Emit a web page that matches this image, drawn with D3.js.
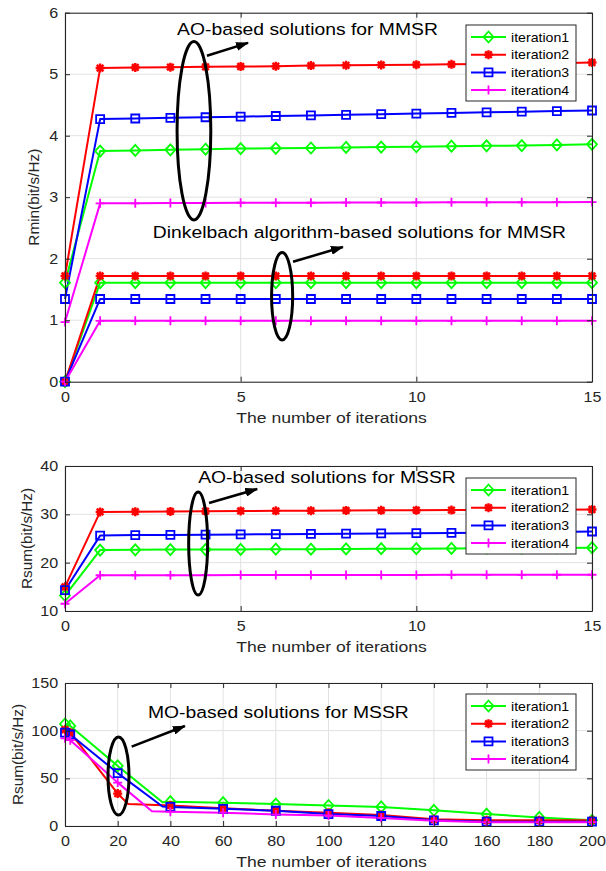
<!DOCTYPE html>
<html><head><meta charset="utf-8">
<script src="https://cdn.jsdelivr.net/npm/d3@7"></script>
<style>body{margin:0;background:#fff} svg{display:block}</style>
</head><body>
<script>
// ---------------- data ----------------
const seriesNames = ["iteration1", "iteration2", "iteration3", "iteration4"];
const seriesColors = ["#00ff00", "#ff0000", "#0000ff", "#ff00ff"];
const seriesMarkers = ["diamond", "star", "square", "plus"];

// Panel 1: Rmin vs iterations
const p1X = [0,1,2,3,4,5,6,7,8,9,10,11,12,13,14,15];
const p1AO_it1 = [1.61,3.75,3.76,3.77,3.78,3.79,3.795,3.80,3.81,3.815,3.82,3.83,3.835,3.84,3.85,3.86];
const p1AO_it2 = [1.72,5.10,5.11,5.115,5.12,5.125,5.13,5.14,5.145,5.15,5.155,5.16,5.165,5.17,5.18,5.19];
const p1AO_it3 = [1.345,4.27,4.28,4.29,4.30,4.31,4.32,4.33,4.34,4.35,4.36,4.37,4.38,4.39,4.40,4.41];
const p1AO_it4 = [0.97,2.90,2.90,2.905,2.905,2.91,2.91,2.91,2.912,2.914,2.915,2.916,2.917,2.918,2.919,2.92];
const p1DK_it1 = [0,1.61,1.61,1.61,1.61,1.61,1.61,1.61,1.61,1.61,1.61,1.61,1.61,1.61,1.61,1.61];
const p1DK_it2 = [0,1.72,1.72,1.72,1.72,1.72,1.72,1.72,1.72,1.72,1.72,1.72,1.72,1.72,1.72,1.72];
const p1DK_it3 = [0,1.345,1.345,1.345,1.345,1.345,1.345,1.345,1.345,1.345,1.345,1.345,1.345,1.345,1.345,1.345];
const p1DK_it4 = [0,0.99,0.99,0.99,0.99,0.99,0.99,0.99,0.99,0.99,0.99,0.99,0.99,0.99,0.99,0.99];
const p1XTicks = [0,5,10,15];
const p1YTicks = [0,1,2,3,4,5,6];

// Panel 2: Rsum (AO) vs iterations
const p2X = [0,1,2,3,4,5,6,7,8,9,10,11,12,13,14,15];
const p2_it1 = [13.2,22.6,22.65,22.7,22.7,22.75,22.8,22.8,22.85,22.9,22.9,22.95,23.0,23.0,23.05,23.1];
const p2_it2 = [15.0,30.5,30.55,30.6,30.65,30.7,30.72,30.75,30.8,30.82,30.85,30.88,30.9,30.93,30.96,31.0];
const p2_it3 = [14.3,25.6,25.7,25.75,25.8,25.85,25.9,25.95,26.0,26.05,26.1,26.15,26.2,26.3,26.35,26.45];
const p2_it4 = [11.5,17.4,17.4,17.4,17.42,17.43,17.44,17.45,17.45,17.46,17.47,17.48,17.48,17.49,17.5,17.5];
const p2XTicks = [0,5,10,15];
const p2YTicks = [10,20,30,40];

// Panel 3: Rsum (MO) vs iterations
const p3_it1_x = [0,2,20,37,40,60,80,100,120,140,160,180,200];
const p3_it1_y = [107,105,63,25,25.5,24.5,23,21.5,20,16.5,12.5,9,6];
const p3_it2_x = [0,2,20,24,40,60,80,100,120,140,160,180,200];
const p3_it2_y = [101,98,34,23,21.5,18.5,16,14,11.5,7,6,6,6];
const p3_it3_x = [0,2,20,37,40,60,80,100,120,140,160,180,200];
const p3_it3_y = [98,96,55.5,20.5,20,18,16,12.5,10.5,6,4.5,4.5,4.5];
const p3_it4_x = [0,2,20,33,40,60,80,100,120,140,160,180,200];
const p3_it4_y = [92,90,45.5,15.5,15,14,12,11,8.5,5.5,4,4,4];
const p3MarkerX = [0,2,20,40,60,80,100,120,140,160,180,200];
const p3XTicks = [0,20,40,60,80,100,120,140,160,180,200];
const p3YTicks = [0,50,100,150];

const xTitle = "The number of iterations";

// ---------------- drawing ----------------
const W = 606, H = 871;
const SX = 1.15; // horizontal text stretch of the original figure
const FONT = "'Liberation Sans', Arial, sans-serif";
const AX = "#262626";

const svg = d3.select("body").append("svg").attr("width", W).attr("height", H)
  .style("font-family", FONT);

const defs = svg.append("defs");
defs.append("marker").attr("id", "arrowhead")
  .attr("markerUnits", "userSpaceOnUse")
  .attr("markerWidth", 13).attr("markerHeight", 9)
  .attr("refX", 12).attr("refY", 4.5).attr("orient", "auto")
  .append("path").attr("d", "M0,0L13,4.5L0,9Z").attr("fill", "#000");

function markerPath(type) {
  switch (type) {
    case "diamond": return "M0,-5.5L5,0L0,5.5L-5,0Z";
    case "square": return "M-4,-4H4V4H-4Z";
    case "plus": return "M-4.5,0H4.5M0,-4.5V4.5";
    case "star": return "M-4.5,0H4.5M0,-4.5V4.5M-3.3,-3.3L3.3,3.3M-3.3,3.3L3.3,-3.3";
  }
}

function stretchText(sel, x, y) {
  return sel.attr("transform", `translate(${x},${y}) scale(${SX},1)`);
}

const fmt = d3.format("~g");

function drawPanel(cfg) {
  const L = 65, R = 592;
  const x = d3.scaleLinear().domain(cfg.xDomain).range([L, R]);
  const y = d3.scaleLinear().domain(cfg.yDomain).range([cfg.bottom, cfg.top]);
  const g = svg.append("g");

  // grid
  g.append("g").selectAll("line").data(cfg.xTicks).join("line")
    .attr("x1", d => x(d)).attr("x2", d => x(d))
    .attr("y1", cfg.top).attr("y2", cfg.bottom)
    .attr("stroke", "#e2e2e2").attr("stroke-width", 1);
  g.append("g").selectAll("line").data(cfg.yTicks).join("line")
    .attr("x1", L).attr("x2", R)
    .attr("y1", d => y(d)).attr("y2", d => y(d))
    .attr("stroke", "#e2e2e2").attr("stroke-width", 1);

  // series
  const line = d3.line().x(d => x(d[0])).y(d => y(d[1]));
  cfg.series.forEach(s => {
    const pts = s.xs.map((v, i) => [v, s.ys[i]]);
    g.append("path").datum(pts).attr("d", line)
      .attr("fill", "none").attr("stroke", s.color).attr("stroke-width", 2)
      .attr("stroke-linejoin", "round");
  });
  cfg.series.forEach(s => {
    const pts = s.xs.map((v, i) => [v, s.ys[i]])
      .filter(p => !s.markerAt || s.markerAt.includes(p[0]));
    g.append("g").selectAll("path").data(pts).join("path")
      .attr("transform", d => `translate(${x(d[0])},${y(d[1])})`)
      .attr("d", markerPath(s.marker))
      .attr("fill", "none").attr("stroke", s.color)
      .attr("stroke-width", s.marker === "star" ? 2.4 : 1.8);
  });

  // axes
  const styleAxis = a => {
    a.select(".domain").attr("stroke", AX).attr("stroke-width", 1.1);
    a.selectAll(".tick line").attr("stroke", AX).attr("stroke-width", 1);
    a.selectAll(".tick text").attr("fill", AX).style("font-size", "14px")
      .style("font-family", FONT);
  };
  const bx = g.append("g").attr("transform", `translate(0,${cfg.bottom})`)
    .call(d3.axisBottom(x).tickValues(cfg.xTicks).tickFormat(fmt).tickSizeInner(-5).tickSizeOuter(0).tickPadding(10));
  styleAxis(bx);
  bx.selectAll(".tick text").attr("transform", `scale(${SX},1)`);
  const tx = g.append("g").attr("transform", `translate(0,${cfg.top})`)
    .call(d3.axisTop(x).tickValues(cfg.xTicks).tickSizeInner(-5).tickSizeOuter(0).tickFormat(""));
  styleAxis(tx);
  const ly = g.append("g").attr("transform", `translate(${L},0)`)
    .call(d3.axisLeft(y).tickValues(cfg.yTicks).tickFormat(fmt).tickSizeInner(-5).tickSizeOuter(0).tickPadding(6));
  styleAxis(ly);
  ly.selectAll(".tick text").attr("transform", `scale(${SX},1)`);
  const ry = g.append("g").attr("transform", `translate(${R},0)`)
    .call(d3.axisRight(y).tickValues(cfg.yTicks).tickSizeInner(-5).tickSizeOuter(0).tickFormat(""));
  styleAxis(ry);

  // axis titles
  stretchText(g.append("text"), (L + R) / 2 + 3, cfg.bottom + 41)
    .attr("text-anchor", "middle").attr("fill", AX).style("font-size", "15.3px")
    .text(xTitle);
  g.append("text")
    .attr("transform", `translate(${cfg.yTitleX},${(cfg.top + cfg.bottom) / 2}) rotate(-90)`)
    .attr("text-anchor", "middle").attr("fill", AX).style("font-size", "15.3px")
    .text(cfg.yTitle);

  // annotations
  cfg.notes.forEach(n => {
    g.append("ellipse")
      .attr("cx", x(n.ex)).attr("cy", y(n.ey))
      .attr("rx", x(n.ex + n.erx) - x(n.ex)).attr("ry", y(n.ey) - y(n.ey + n.ery))
      .attr("fill", "none").attr("stroke", "#000").attr("stroke-width", 3);
    g.append("line")
      .attr("x1", x(n.a0[0])).attr("y1", y(n.a0[1]))
      .attr("x2", x(n.a1[0])).attr("y2", y(n.a1[1]))
      .attr("stroke", "#000").attr("stroke-width", 2.5)
      .attr("marker-end", "url(#arrowhead)");
    stretchText(g.append("text"), x(n.tx), y(n.ty))
      .attr("fill", "#000").style("font-size", "16.8px").text(n.text);
  });

  // legend
  const lg = g.append("g");
  const lx = 466, lw = 110, lh = 76, ly0 = cfg.legendTop;
  lg.append("rect").attr("x", lx).attr("y", ly0).attr("width", lw).attr("height", lh)
    .attr("fill", "#fff").attr("stroke", AX).attr("stroke-width", 1);
  cfg.series.slice(0, 4).forEach((s, i) => {
    const yy = ly0 + 12 + i * 17.7;
    lg.append("line").attr("x1", lx + 5).attr("x2", lx + 40).attr("y1", yy).attr("y2", yy)
      .attr("stroke", s.color).attr("stroke-width", 2);
    lg.append("path").attr("transform", `translate(${lx + 22.5},${yy})`)
      .attr("d", markerPath(s.marker)).attr("fill", "none").attr("stroke", s.color)
      .attr("stroke-width", s.marker === "star" ? 2.4 : 1.8);
    stretchText(lg.append("text"), lx + 45, yy + 4.5)
      .attr("fill", "#000").style("font-size", "12.3px").text(s.name);
  });
}

function mk(i, xs, ys, markerAt) {
  return { name: seriesNames[i], color: seriesColors[i], marker: seriesMarkers[i], xs, ys, markerAt };
}

drawPanel({
  top: 12.7, bottom: 381.7, xDomain: [0, 15], yDomain: [0, 6],
  xTicks: p1XTicks, yTicks: p1YTicks, yTitle: "Rmin(bit/s/Hz)", yTitleX: 39,
  legendTop: 25,
  series: [mk(0, p1X, p1AO_it1), mk(1, p1X, p1AO_it2), mk(2, p1X, p1AO_it3), mk(3, p1X, p1AO_it4),
           mk(0, p1X, p1DK_it1), mk(1, p1X, p1DK_it2), mk(2, p1X, p1DK_it3), mk(3, p1X, p1DK_it4)],
  notes: [
    { ex: 3.67, ey: 4.08, erx: 0.48, ery: 1.45, a0: [4.04, 5.30], a1: [5.21, 5.51],
      tx: 3.19, ty: 5.64, text: "AO-based solutions for MMSR" },
    { ex: 6.18, ey: 1.39, erx: 0.30, ery: 0.71, a0: [6.49, 1.95], a1: [7.91, 2.19],
      tx: 2.50, ty: 2.33, text: "Dinkelbach algorithm-based solutions for MMSR" }
  ]
});

drawPanel({
  top: 466, bottom: 611, xDomain: [0, 15], yDomain: [10, 40],
  xTicks: p2XTicks, yTicks: p2YTicks, yTitle: "Rsum(bit/s/Hz)", yTitleX: 32,
  legendTop: 478,
  series: [mk(0, p2X, p2_it1), mk(1, p2X, p2_it2), mk(2, p2X, p2_it3), mk(3, p2X, p2_it4)],
  notes: [
    { ex: 3.79, ey: 23.97, erx: 0.27, ery: 10.66, a0: [4.10, 32.35], a1: [5.47, 35.24],
      tx: 3.79, ty: 36.5, text: "AO-based solutions for MSSR" }
  ]
});

drawPanel({
  top: 683, bottom: 826, xDomain: [0, 200], yDomain: [0, 150],
  xTicks: p3XTicks, yTicks: p3YTicks, yTitle: "Rsum(bit/s/Hz)", yTitleX: 23,
  legendTop: 694,
  series: [mk(0, p3_it1_x, p3_it1_y, p3MarkerX), mk(1, p3_it2_x, p3_it2_y, p3MarkerX),
           mk(2, p3_it3_x, p3_it3_y, p3MarkerX), mk(3, p3_it4_x, p3_it4_y, p3MarkerX)],
  notes: [
    { ex: 20.3, ey: 52.4, erx: 3.98, ery: 40.9, a0: [25.3, 83.2], a1: [45.5, 104.9],
      tx: 31.5, ty: 113.3, text: "MO-based solutions for MSSR" }
  ]
});
</script>
</body></html>
